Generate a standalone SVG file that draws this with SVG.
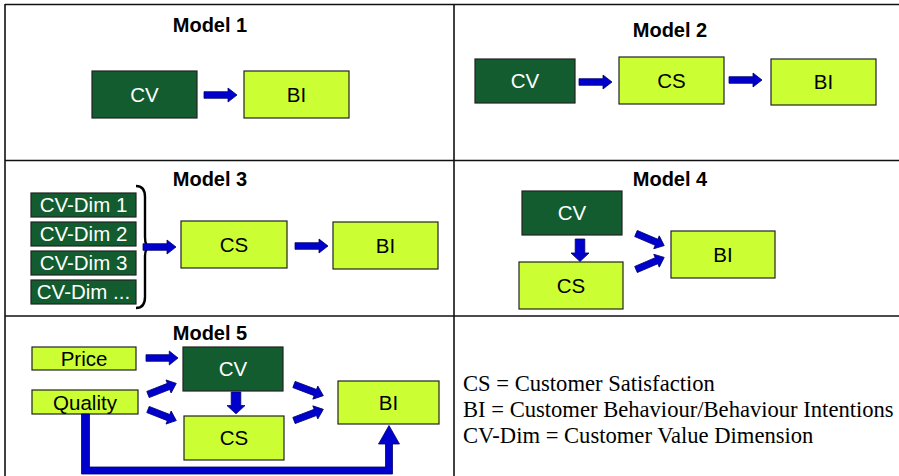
<svg xmlns="http://www.w3.org/2000/svg" width="899" height="476" viewBox="0 0 899 476">
<style>
  .grid { stroke: #111; stroke-width: 1.6; fill: none; }
  .dk { fill: #125C30; stroke: #222; stroke-width: 1.2; }
  .lm { fill: #CCFF33; stroke: #222; stroke-width: 1.2; }
  .tw { font-family: "Liberation Sans", Arial, sans-serif; font-size: 20.5px; fill: #FFFFFF; text-anchor: middle; }
  .tb { font-family: "Liberation Sans", Arial, sans-serif; font-size: 20.5px; fill: #000000; text-anchor: middle; }
  .title { font-family: "Liberation Sans", Arial, sans-serif; font-size: 20px; font-weight: bold; fill: #000; text-anchor: middle; }
  .leg { font-family: "Liberation Serif", "Times New Roman", serif; font-size: 22.6px; fill: #000; }
  .arr { fill: #0000CC; stroke: #000070; stroke-width: 0.8; stroke-linejoin: miter; }
</style>
<defs>
  <path id="ha" d="M0,-3.3 H24 V-7 L33,0 L24,7 V3.3 H0 Z"/>
  <path id="da" d="M-4.8,0 V14 H-9 L0,22.5 L9,14 H4.8 V0 Z"/>
</defs>
<rect width="899" height="476" fill="#FFFFFF"/>
<g id="grid">
  <line class="grid" x1="5" y1="4.5" x2="899" y2="4.5"/>
  <line class="grid" x1="5" y1="160.5" x2="899" y2="160.5"/>
  <line class="grid" x1="5" y1="316" x2="899" y2="316"/>
  <line class="grid" x1="5" y1="4" x2="5" y2="476"/>
  <line class="grid" x1="454" y1="4" x2="454" y2="476"/>
</g>
<g id="titles">
  <text class="title" x="210" y="32">Model 1</text>
  <text class="title" x="670" y="37">Model 2</text>
  <text class="title" x="210" y="186">Model 3</text>
  <text class="title" x="670" y="186">Model 4</text>
  <text class="title" x="210" y="340">Model 5</text>
</g>
<!-- Model 1 -->
<g id="m1-cv"><rect class="dk" x="92" y="71" width="105" height="47"/><text class="tw" x="144.5" y="102">CV</text></g>
<g id="m1-bi"><rect class="lm" x="244" y="71" width="105" height="47"/><text class="tb" x="296.5" y="102">BI</text></g>
<!-- Model 2 -->
<g id="m2-cv"><rect class="dk" x="475" y="59" width="100" height="44"/><text class="tw" x="525" y="88">CV</text></g>
<g id="m2-cs"><rect class="lm" x="619" y="57" width="105" height="47"/><text class="tb" x="671.5" y="88">CS</text></g>
<g id="m2-bi"><rect class="lm" x="771" y="59" width="105" height="46"/><text class="tb" x="823.5" y="89">BI</text></g>
<!-- Model 3 -->
<g id="m3-dim1"><rect class="dk" x="31" y="193" width="105" height="24"/><text class="tw" x="83.5" y="212">CV-Dim 1</text></g>
<g id="m3-dim2"><rect class="dk" x="31" y="222" width="105" height="24"/><text class="tw" x="83.5" y="241">CV-Dim 2</text></g>
<g id="m3-dim3"><rect class="dk" x="31" y="251" width="105" height="24"/><text class="tw" x="83.5" y="270">CV-Dim 3</text></g>
<g id="m3-dim4"><rect class="dk" x="31" y="280" width="105" height="24"/><text class="tw" x="83.5" y="299">CV-Dim ...</text></g>
<g id="m3-brace"><path d="M136,186 Q145,186 145,197 V237 Q145,247 150,247 Q145,247 145,257 V297 Q145,308 136,308" fill="none" stroke="#000" stroke-width="2.4"/></g>
<g id="m3-cs"><rect class="lm" x="181" y="221" width="106" height="47"/><text class="tb" x="234" y="252">CS</text></g>
<g id="m3-bi"><rect class="lm" x="333" y="222" width="105" height="47"/><text class="tb" x="385.5" y="253">BI</text></g>
<!-- Model 4 -->
<g id="m4-cv"><rect class="dk" x="522" y="191" width="100" height="44"/><text class="tw" x="572" y="220">CV</text></g>
<g id="m4-cs"><rect class="lm" x="519" y="262" width="104" height="47"/><text class="tb" x="571" y="293">CS</text></g>
<g id="m4-bi"><rect class="lm" x="671" y="231" width="104" height="47"/><text class="tb" x="723" y="262">BI</text></g>
<!-- Model 5 -->
<g id="m5-price"><rect class="lm" x="32" y="347" width="104" height="23"/><text class="tb" x="84" y="366">Price</text></g>
<g id="m5-quality"><rect class="lm" x="32" y="390" width="106" height="24"/><text class="tb" x="85" y="409.5">Quality</text></g>
<g id="m5-cv"><rect class="dk" x="183" y="347" width="100" height="44"/><text class="tw" x="233" y="376">CV</text></g>
<g id="m5-cs"><rect class="lm" x="184" y="416" width="100" height="44"/><text class="tb" x="234" y="445">CS</text></g>
<g id="m5-bi"><rect class="lm" x="338" y="381" width="101" height="43"/><text class="tb" x="388.5" y="410">BI</text></g>
<!-- Legend -->
<g id="legend">
  <text class="leg" x="463" y="391">CS = Customer Satisfaction</text>
  <text class="leg" x="463" y="417">BI = Customer Behaviour/Behaviour Intentions</text>
  <text class="leg" x="463" y="443">CV-Dim = Customer Value Dimension</text>
</g>
<g id="connectors">
  <use href="#ha" class="arr" transform="translate(204,95)"/>
  <use href="#ha" class="arr" transform="translate(579,82)"/>
  <use href="#ha" class="arr" transform="translate(729,80)"/>
  <use href="#ha" class="arr" transform="translate(143,247)"/>
  <use href="#ha" class="arr" transform="translate(295,246)"/>
  <use href="#da" class="arr" transform="translate(580,239)"/>
  <use href="#ha" class="arr" transform="translate(636,233.5) rotate(23.2) scale(0.93,1)"/>
  <use href="#ha" class="arr" transform="translate(636,269.5) rotate(-23.2) scale(0.93,1)"/>
  <use href="#ha" class="arr" transform="translate(146,358) scale(0.97,1)"/>
  <use href="#ha" class="arr" transform="translate(148,394.5) rotate(-21.4) scale(0.92,1)"/>
  <use href="#ha" class="arr" transform="translate(148,409.5) rotate(21.4) scale(0.92,1)"/>
  <use href="#da" class="arr" transform="translate(236,392) scale(1,0.97)"/>
  <use href="#ha" class="arr" transform="translate(294,384.5) rotate(20.8) scale(0.95,1)"/>
  <use href="#ha" class="arr" transform="translate(294,420.5) rotate(-20.8) scale(0.95,1)"/>
  <path class="arr" d="M81.5,414 V474 H392.5 V444 H399.5 L389,425.5 L378.5,444 H385.5 V467 H89.5 V414 Z"/>
</g>
</svg>
